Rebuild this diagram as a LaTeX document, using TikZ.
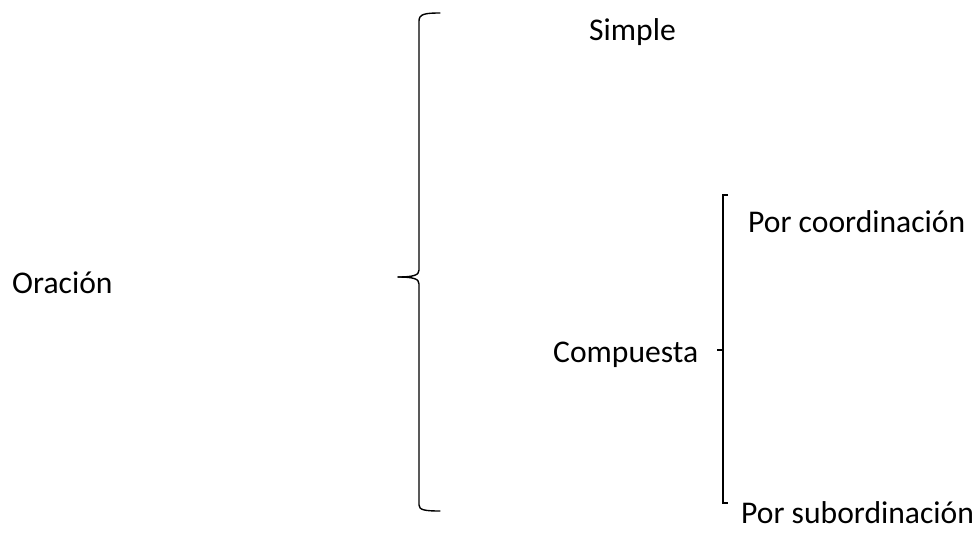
\documentclass[tikz,border=0pt]{standalone}
\usepackage{fontspec}
\setmainfont{Carlito}
\begin{document}
\begin{tikzpicture}[x=1pt,y=-1pt,
  lbl/.style={anchor=base west,inner sep=0pt,font=\fontsize{31.6}{38}\selectfont},
  brace/.style={line width=1.4pt,line cap=round,line join=round}]
\useasboundingbox (0,0) rectangle (979,541);
\node[lbl] (oracion) at (12,293) {Oración};
\node[lbl] (simple) at (589,40) {Simple};
\node[lbl] (compuesta) at (553,362) {Compuesta};
\node[lbl] (coord) at (748,232) {Por coordinación};
\node[lbl] (subord) at (741,523) {Por subordinación};
% big brace
\coordinate (bt) at (440,13);
\coordinate (bm) at (398,277);
\coordinate (bb) at (440,511);
\draw[brace] (bt) .. controls (425,13) and (419,14) .. (419,21)
  -- (419,270) .. controls (419,275) and (414,277) .. (bm);
\draw[brace] (bm) .. controls (414,277) and (419,279) .. (419,284)
  -- (419,505) .. controls (419,510) and (425,511) .. (bb);
% small bracket
\coordinate (st) at (728,195);
\coordinate (sm) at (717,350);
\coordinate (sb) at (728,503);
\draw[line width=1.1pt] (st) -- (723,195) -- (723,503) -- (sb);
\draw[line width=1.1pt] (sm) -- (723,350);
\end{tikzpicture}
\end{document}
